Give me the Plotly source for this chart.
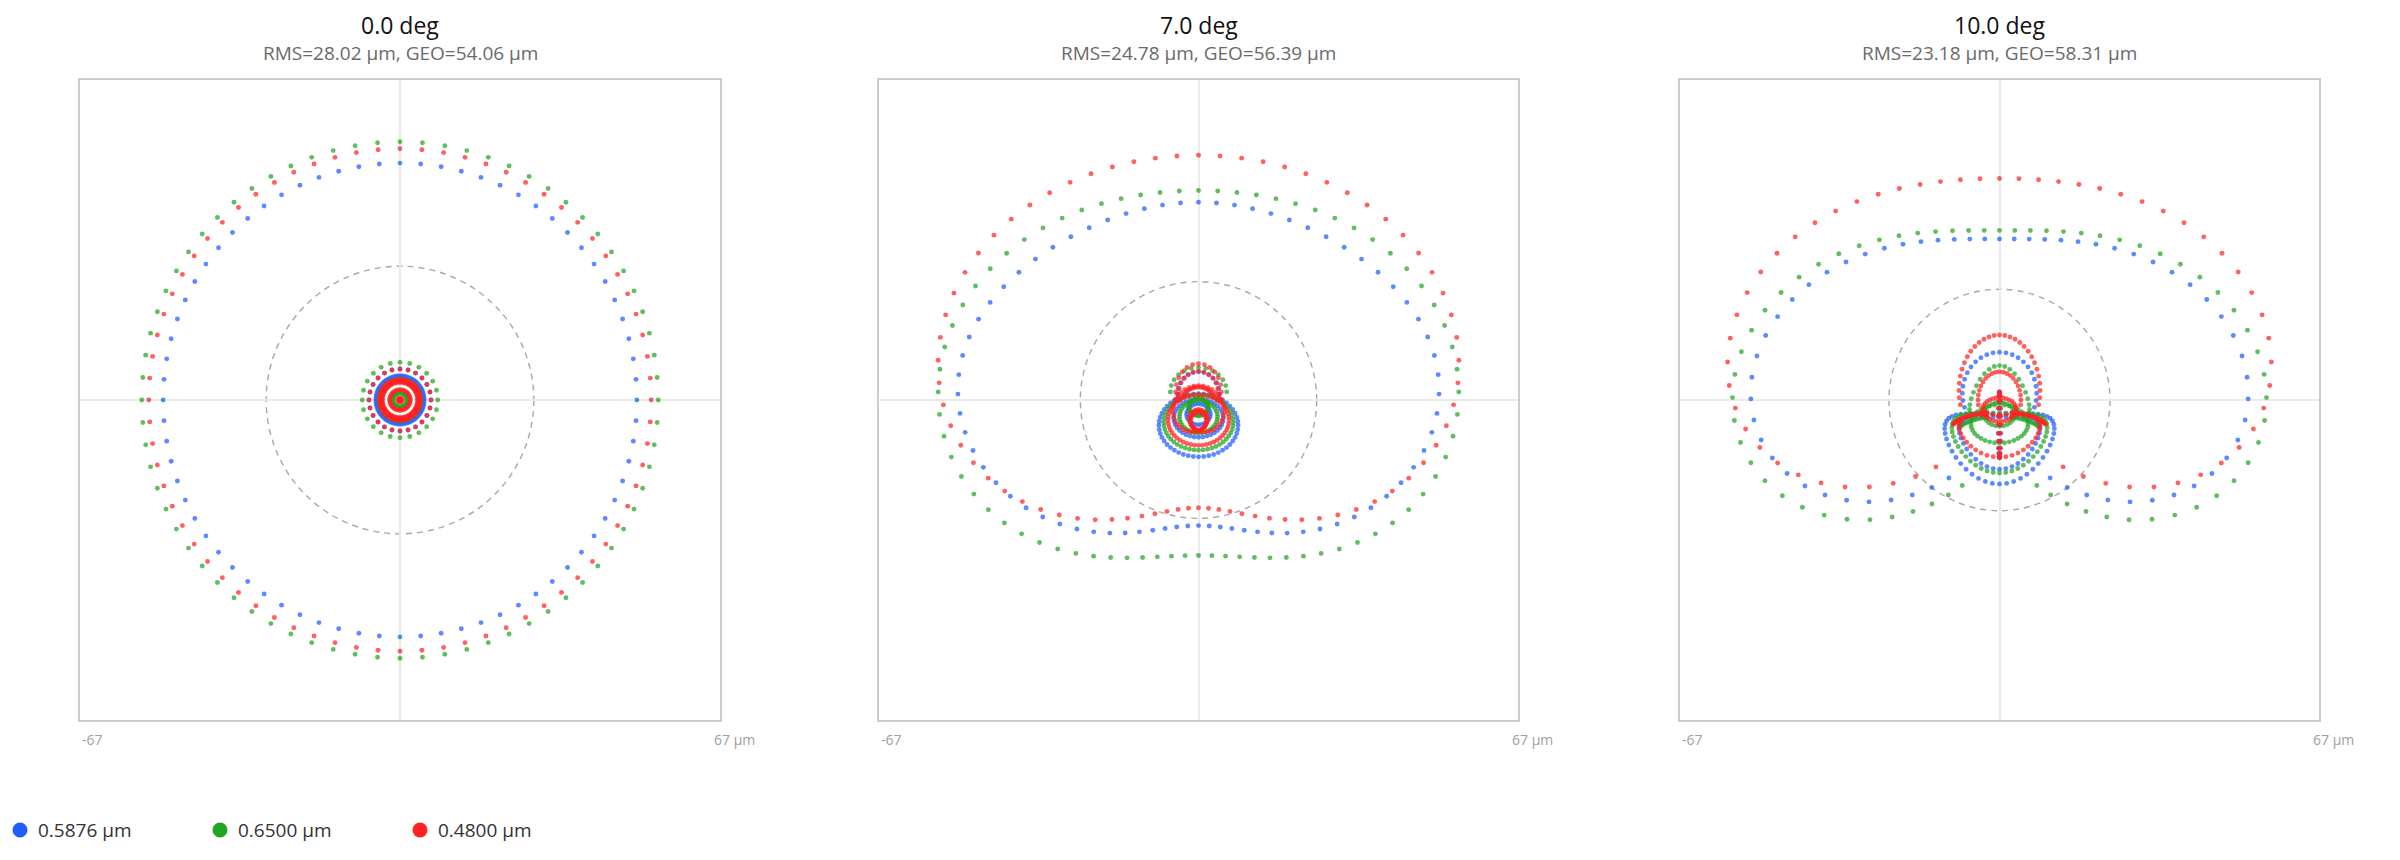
import math
import plotly.graph_objects as go

# ---------------- data ----------------
FIELD_LABELS = ["0.0 deg", "7.0 deg", "10.0 deg"]
RMS_UM = [28.02, 24.78, 23.18]
GEO_UM = [54.06, 56.39, 58.31]
WAVE_LABELS = ["0.5876 µm", "0.6500 µm", "0.4800 µm"]
WAVE_COLORS = ["#1f5eff", "#22a522", "#ff2222"]
HALF_RANGE_UM = 67

# Each ring of traced rays: [ray count, min |pupil angle|, max |pupil angle| (deg),
#   y0, y_cos1, y_cos2, y_cos3, y_cos4, x_sin1, x_sin2, x_sin3, x_sin4]  (µm)
RINGS_0_BLUE = [
    [72, 0, 180, 0, 49.6, 0, 0, 0, 49.6, 0, 0, 0],
    [24, 0, 180, 0, 6.5, 0, 0, 0, 6.5, 0, 0, 0],
    [72, 0, 180, 0, 5.05, 0, 0, 0, 5.05, 0, 0, 0],
    [60, 0, 180, 0, 4.0, 0, 0, 0, 4.0, 0, 0, 0],
]
RINGS_0_GREEN = [
    [72, 0, 180, 0, 54.06, 0, 0, 0, 54.06, 0, 0, 0],
    [24, 0, 180, 0, 7.9, 0, 0, 0, 7.9, 0, 0, 0],
    [48, 0, 180, 0, 4.4, 0, 0, 0, 4.4, 0, 0, 0],
    [30, 0, 180, 0, 1.5, 0, 0, 0, 1.5, 0, 0, 0],
]
RINGS_0_RED = [
    [72, 0, 180, 0, 52.6, 0, 0, 0, 52.6, 0, 0, 0],
    [24, 0, 180, 0, 6.5, 0, 0, 0, 6.5, 0, 0, 0],
    [72, 0, 180, 0, 4.3, 0, 0, 0, 4.3, 0, 0, 0],
    [72, 0, 180, 0, 4.0, 0, 0, 0, 4.0, 0, 0, 0],
    [66, 0, 180, 0, 3.7, 0, 0, 0, 3.7, 0, 0, 0],
    [40, 0, 180, 0, 2.15, 0, 0, 0, 2.15, 0, 0, 0],
    [8, 0, 180, 0, 0.5, 0, 0, 0, 0.5, 0, 0, 0],
    [1, 0, 180, 0, 0, 0, 0, 0, 0, 0, 0, 0],
]

RINGS_7_BLUE = [
    [72, 0, 180, 1.81, 36.9, 5.18, -3.05, 0.56, 46.1, 4.35, -3.9, 0],
    [48, 0, 180, -5.3, 6.6, 0, 0, 0, 8.3, 0, 0, 0],
    [36, 0, 180, -3.8, 4.0, 0, 0, 0, 5.2, 0, 0, 0],
    [24, 0, 110, 1.2, 4.7, 0, 0, 0, 4.4, 0, 0, 0],
    [24, 0, 180, -3.0, 2.2, 0, 0, 0, 2.5, 0, 0, 0],
]
RINGS_7_GREEN = [
    [72, 0, 180, 1.26, 42.0, 4.33, -3.8, 0.06, 50.5, 3.5, -3.8, 0],
    [48, 0, 180, -4.7, 5.8, 0, 0, 0, 7.3, 0, 0, 0],
    [24, 0, 100, 1.7, 5.1, 0, 0, 0, 5.9, 0, 0, 0],
    [36, 0, 180, -3.5, 3.4, 0, 0, 0, 4.0, 0, 0, 0],
    [30, 0, 180, -1.5, 1.8, 0, 0, 0, 2.0, 0, 0, 0],
]
RINGS_7_RED = [
    [72, 0, 180, 6.6, 40.6, 7.68, -3.7, 0.06, 49.6, 6.95, -3.9, 0],
    [48, 0, 180, -4.2, 5.3, 0, 0, 0, 6.4, 0, 0, 0],
    [24, 0, 110, 1.7, 5.9, 0, 0, 0, 4.8, 0, 0, 0],
    [24, 0, 110, 1.2, 4.8, 0, 0, 0, 4.2, 0, 0, 0],
    [48, 0, 70, -0.8, 3.5, 0, 0, 0, 3.6, 0, 0, 0],
    [60, 0, 180, -3.0, 2.5, 3.5, 0, 0, 2.5, 3.5, 0, 0],
    [30, 0, 180, -4.4, 1.9, 0, 0, 0, 1.7, 0, 0, 0],
]

RINGS_10_BLUE = [
    [72, 0, 145, 4.77, 26.97, 9.23, -7.53, 0.27, 43.6, 6.95, -7.9, 0.36],
    [48, 0, 180, -8.15, 7.3, -2.15, 0, 0, 11.5, 0, 0, 0],
    [40, 0, 180, -7.5, 5.5, -1.5, 0, 0, 8.5, 0, 0, 0],
    [36, 0, 115, 1.4, 8.6, 0, 0, 0, 7.8, 0, 0, 0],
    [24, 0, 180, -5.2, 6.9, 0, 0, 0, 0.25, 0, 0, 0],
]
RINGS_10_GREEN = [
    [72, 0, 155, 3.4, 31.34, 8.05, -7.63, 0.35, 47.67, 5.6, -7.93, 0.38],
    [48, 0, 180, -7.4, 6.3, -1.6, 0, 0, 10.0, 0, 0, 0],
    [36, 0, 110, 0.0, 5.2, 2.0, 0, 0, 6.3, 0, 0, 0],
    [90, 15, 70, -7.0, 3.5, 0, 0, 0, 9.0, 0, 0, 0],
    [36, 0, 180, -5.0, 4.0, 0, 0, 0, 6.0, 0, 0, 0],
    [24, 0, 180, -3.0, 2.5, 0, 0, 0, 3.2, 0, 0, 0],
]
RINGS_10_RED = [
    [72, 0, 140, 10.79, 30.09, 12.73, -7.46, 0.24, 47.6, 10.55, -7.8, 0.35],
    [48, 0, 105, 2.0, 11.6, 0, 0, 0, 8.5, 0, 0, 0],
    [36, 0, 100, 0.0, 5.9, 0, 0, 0, 4.5, 0, 0, 0],
    [120, 15, 75, -6.0, 3.5, 0, 0, 0, 10.0, 0, 0, 0],
    [40, 0, 180, -6.5, 4.5, -1.0, 0, 0, 8.5, 0, 0, 0],
    [24, 0, 180, -5.2, 6.9, 0, 0, 0, 0.2, 0, 0, 0],
    [30, 0, 180, -2.0, 2.5, 0, 0, 0, 3.5, 0, 0, 0],
]

FIELD_RINGS = [
    [RINGS_0_BLUE, RINGS_0_GREEN, RINGS_0_RED],
    [RINGS_7_BLUE, RINGS_7_GREEN, RINGS_7_RED],
    [RINGS_10_BLUE, RINGS_10_GREEN, RINGS_10_RED],
]


def ring_points(row):
    n, tmin, tmax, y0, b1, b2, b3, b4, a1, a2, a3, a4 = row
    xs, ys = [], []
    for k in range(int(n)):
        t = 360.0 * k / n
        if t > 180:
            t -= 360
        if abs(t) > tmax + 1e-6 or abs(t) < tmin - 1e-6:
            continue
        r = math.radians(t)
        xs.append(a1 * math.sin(r) + a2 * math.sin(2 * r) + a3 * math.sin(3 * r) + a4 * math.sin(4 * r))
        ys.append(y0 + b1 * math.cos(r) + b2 * math.cos(2 * r) + b3 * math.cos(3 * r) + b4 * math.cos(4 * r))
    return xs, ys


# ---------------- layout geometry (pixels of the 2400x860 page) ----------------
W, H = 2400, 860
OFF = 8  # page body margin
X_DOMAINS = [[(80 - OFF) / W, (720 - OFF) / W],
             [(879 - OFF) / W, (1518 - OFF) / W],
             [(1680 - OFF) / W, (2319 - OFF) / W]]
Y_DOMAIN = [1 - (720 - OFF) / H, 1 - (80 - OFF) / H]
FONT = "Open Sans, Noto Sans, sans-serif"

fig = go.Figure()
shapes, annotations = [], []

for fi in range(3):
    sfx = "" if fi == 0 else str(fi + 1)
    xref, yref = "x" + sfx, "y" + sfx
    for wi in range(3):
        xs, ys = [], []
        for row in FIELD_RINGS[fi][wi]:
            px, py = ring_points(row)
            xs += px
            ys += py
        fig.add_trace(go.Scatter(
            x=xs, y=ys, mode="markers", xaxis=xref, yaxis=yref, name=WAVE_LABELS[wi],
            marker=dict(size=4.9, color=WAVE_COLORS[wi], opacity=0.72, line=dict(width=0)),
            showlegend=False, hoverinfo="skip"))
    ax = dict(domain=X_DOMAINS[fi], range=[-HALF_RANGE_UM, HALF_RANGE_UM], showgrid=False,
              zeroline=True, zerolinecolor="#ebebeb", zerolinewidth=1.5,
              showticklabels=False, ticks="", showline=True, mirror=True,
              linecolor="#cccccc", linewidth=1.5, fixedrange=True)
    ay = dict(ax)
    ay["domain"] = Y_DOMAIN
    ax["anchor"] = yref
    ay["anchor"] = xref
    fig.layout["xaxis" + sfx] = ax
    fig.layout["yaxis" + sfx] = ay

    r = RMS_UM[fi]
    shapes.append(dict(type="circle", xref=xref, yref=yref, x0=-r, x1=r, y0=-r, y1=r,
                       line=dict(color="#a8a8a8", width=1.4, dash="6px,5px"), layer="below"))
    xd = xref + " domain"
    annotations.append(dict(text=FIELD_LABELS[fi], xref=xd, yref="paper", x=0.5, y=1 - (25 - OFF) / H,
                            xanchor="center", yanchor="middle", showarrow=False,
                            font=dict(size=23, color="#111111", family=FONT)))
    annotations.append(dict(text="RMS=%.2f µm, GEO=%.2f µm" % (RMS_UM[fi], GEO_UM[fi]),
                            xref=xd, yref="paper", x=0.5, y=1 - (53 - OFF) / H,
                            xanchor="center", yanchor="middle", showarrow=False,
                            font=dict(size=19, color="#6a6a6a", family=FONT)))
    annotations.append(dict(text="-%d" % HALF_RANGE_UM, xref=xd, yref="paper", x=0, y=1 - (739 - OFF) / H,
                            xanchor="left", yanchor="middle", showarrow=False,
                            font=dict(size=14, color="#a0a0a0", family=FONT)))
    annotations.append(dict(text="%d µm" % HALF_RANGE_UM, xref=xd, yref="paper", x=1, y=1 - (739 - OFF) / H,
                            xanchor="left", xshift=-8, yanchor="middle", showarrow=False,
                            font=dict(size=14, color="#a0a0a0", family=FONT)))

# legend row along the bottom-left (symbol + label per wavelength)
LEG_Y = 1 - (830 - OFF) / H
for wi in range(3):
    cx = 20 - OFF + 200 * wi
    shapes.append(dict(type="circle", xref="paper", yref="paper",
                       x0=(cx - 7.5) / W, x1=(cx + 7.5) / W,
                       y0=LEG_Y - 7.5 / H, y1=LEG_Y + 7.5 / H,
                       fillcolor=WAVE_COLORS[wi], line=dict(width=0)))
    annotations.append(dict(text=WAVE_LABELS[wi], xref="paper", yref="paper",
                            x=(cx + 16) / W, y=LEG_Y, xanchor="left", yanchor="middle",
                            showarrow=False, font=dict(size=19, color="#333333", family=FONT)))

fig.update_layout(
    width=W, height=H, margin=dict(l=0, r=0, t=0, b=0),
    paper_bgcolor="white", plot_bgcolor="white",
    shapes=shapes, annotations=annotations, showlegend=False,
    font=dict(family=FONT),
)

fig.write_html("out.html")
